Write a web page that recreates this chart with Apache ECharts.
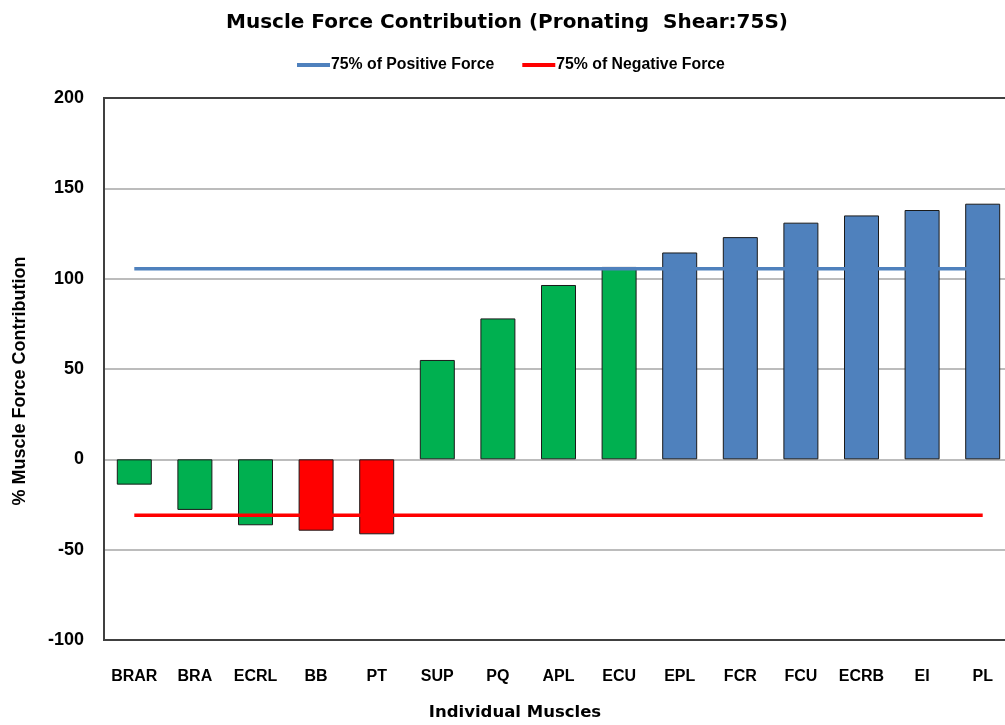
<!DOCTYPE html>
<html>
<head>
<meta charset="utf-8">
<title>Muscle Force Contribution</title>
<script src="https://cdn.jsdelivr.net/npm/echarts@6/dist/echarts.min.js"></script>
<style>
  html, body { margin: 0; padding: 0; background: #fff; }
  #chart { width: 1005px; height: 725px; }
</style>
</head>
<body>
<div id="chart"></div>
<script>
// Muscles on the x axis, in plotted order
const muscles = ['BRAR', 'BRA', 'ECRL', 'BB', 'PT', 'SUP', 'PQ', 'APL', 'ECU', 'EPL', 'FCR', 'FCU', 'ECRB', 'EI', 'PL'];
// % muscle force contribution per muscle
const contribution = [-14, -28, -36.5, -39.5, -41.5, 55, 78, 96.5, 106.5, 114.5, 123, 131, 135, 138, 141.5];
// Bar group for each muscle (sets its fill)
const barGroup = ['mid', 'mid', 'mid', 'neg', 'neg', 'mid', 'mid', 'mid', 'mid', 'pos', 'pos', 'pos', 'pos', 'pos', 'pos'];
// 75% threshold lines, one value per muscle
const positive75 = [105.5, 105.5, 105.5, 105.5, 105.5, 105.5, 105.5, 105.5, 105.5, 105.5, 105.5, 105.5, 105.5, 105.5, 105.5];
const negative75 = [-31, -31, -31, -31, -31, -31, -31, -31, -31, -31, -31, -31, -31, -31, -31];
// Y axis ticks
const yTicks = { min: -100, max: 200, step: 50 };

const groupColor = { mid: '#00B050', neg: '#FF0000', pos: '#4F81BD' };
const FONT = '"Liberation Sans", Arial, sans-serif';
const WIDE = '"DejaVu Sans", Verdana, sans-serif';

const chart = echarts.init(document.getElementById('chart'), null, { renderer: 'canvas' });

chart.setOption({
  animation: false,
  backgroundColor: '#ffffff',
  title: {
    text: 'Muscle Force Contribution (Pronating  Shear:75S)',
    left: 221,
    top: 8,
    textStyle: { fontFamily: WIDE, fontWeight: 'bold', fontSize: 20, color: '#000' }
  },
  legend: {
    top: 52,
    left: 292,
    itemWidth: 33,
    itemHeight: 4,
    itemGap: 28,
    icon: 'rect',
    data: ['75% of Positive Force', '75% of Negative Force'],
    textStyle: { fontFamily: FONT, fontWeight: 'bold', fontSize: 15.8, color: '#000', padding: [0, 0, 0, -4] }
  },
  // the last category runs past the right edge of the canvas
  grid: {
    left: 104,
    width: 909,
    top: 98,
    bottom: 85,
    show: true,
    borderColor: '#404040',
    borderWidth: 2,
    containLabel: false,
    outerBoundsMode: 'none'
  },
  graphic: [
    {
      type: 'text',
      x: 515,
      y: 713,
      style: {
        text: 'Individual Muscles',
        font: 'bold 16.5px ' + WIDE,
        fill: '#000',
        align: 'center',
        verticalAlign: 'middle'
      }
    },
    {
      type: 'text',
      x: 20,
      y: 381,
      rotation: Math.PI / 2,
      style: {
        text: '% Muscle Force Contribution',
        font: 'bold 18px ' + FONT,
        fill: '#000',
        align: 'center',
        verticalAlign: 'middle'
      }
    }
  ],
  xAxis: {
    type: 'category',
    data: muscles,
    axisLine: { show: false, onZero: false },
    axisTick: { show: false },
    axisLabel: { margin: 29, fontFamily: FONT, fontWeight: 'bold', fontSize: 16, color: '#000', interval: 0 },
    splitLine: { show: false }
  },
  yAxis: {
    type: 'value',
    min: yTicks.min,
    max: yTicks.max,
    interval: yTicks.step,
    axisLine: { show: true, lineStyle: { color: '#404040', width: 2 } },
    axisTick: { show: false },
    axisLabel: { margin: 20, fontFamily: FONT, fontWeight: 'bold', fontSize: 18, color: '#000' },
    splitLine: { show: true, showMinLine: false, showMaxLine: false, lineStyle: { color: '#a6a6a6', width: 1.5 } }
  },
  series: [
    {
      name: 'Contribution',
      type: 'bar',
      barWidth: 35,
      data: contribution.map((v, i) => ({
        value: v,
        itemStyle: { color: groupColor[barGroup[i]] }
      })),
      itemStyle: { borderColor: '#1a1a1a', borderWidth: 1 },
      emphasis: { disabled: true }
    },
    {
      name: '75% of Positive Force',
      type: 'line',
      data: positive75,
      symbol: 'none',
      color: '#4F81BD',
      lineStyle: { color: '#4F81BD', width: 3.5 },
      z: 3
    },
    {
      name: '75% of Negative Force',
      type: 'line',
      data: negative75,
      symbol: 'none',
      color: '#FF0000',
      lineStyle: { color: '#FF0000', width: 3.5 },
      z: 3
    }
  ]
});
</script>
</body>
</html>
